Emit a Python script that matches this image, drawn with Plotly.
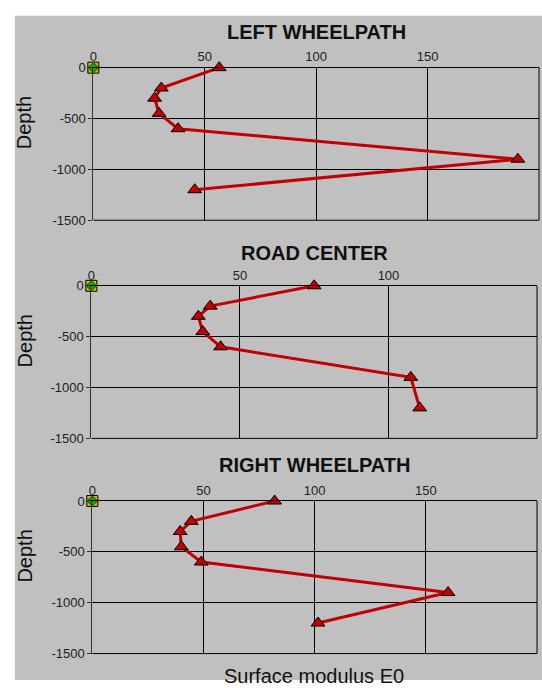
import plotly.graph_objects as go

W, H = 542, 688

depth = [0, -200, -300, -450, -600, -900, -1200]
left_e0 = [56.5, 30.5, 27.5, 29.5, 38, 190.5, 45.5]
center_e0 = [75, 40, 36, 37.5, 43.5, 107.5, 110.5]
right_e0 = [82, 44.5, 39.5, 40, 49, 160, 101.5]

titles = ["LEFT WHEELPATH", "ROAD CENTER", "RIGHT WHEELPATH"]
x_ranges = [[0, 200], [0, 150], [0, 200]]
x_ticks = [[0, 50, 100, 150, 200], [0, 50, 100, 150], [0, 50, 100, 150, 200]]
y_ticks = [0, -500, -1000, -1500]
y_ticktext = ["0", "-500", "-1000", "-1500"]
origin_x = [0]
origin_y = [0]

# plot areas in pixels: (left, right, top, bottom)
boxes = [(90, 539, 62, 218), (88, 537, 285, 441), (89, 537, 505, 661)]
title_y = [26, 251, 468]

GRAY = "#c0c0c0"
RED = "#c00000"
FONT = "Arial, Liberation Sans, sans-serif"

fig = go.Figure()
series = [left_e0, center_e0, right_e0]

annotations = []
shapes = [dict(type="rect", xref="paper", yref="paper", x0=11 / W, x1=1,
               y0=0, y1=1 - 9 / H, fillcolor=GRAY, line=dict(width=0),
               layer="below")]
for i, (vals, box) in enumerate(zip(series, boxes)):
    xa = "x" if i == 0 else f"x{i+1}"
    ya = "y" if i == 0 else f"y{i+1}"
    l, r, t, b = box
    fig.add_trace(go.Scatter(
        x=vals, y=depth, xaxis=xa, yaxis=ya, mode="lines+markers",
        line=dict(color=RED, width=3),
        marker=dict(symbol="triangle-up", size=12, color=RED,
                    line=dict(color="black", width=1)),
        cliponaxis=False, showlegend=False, hoverinfo="skip"))
    fig.add_trace(go.Scatter(
        x=origin_x, y=origin_y, xaxis=xa, yaxis=ya, mode="markers",
        marker=dict(symbol="square", size=11, color="#f0a800",
                    line=dict(color="black", width=1)),
        cliponaxis=False, showlegend=False, hoverinfo="skip"))
    fig.add_trace(go.Scatter(
        x=origin_x, y=origin_y, xaxis=xa, yaxis=ya, mode="markers",
        marker=dict(symbol="diamond", size=8, color="#10a010",
                    line=dict(color="#006000", width=1)),
        cliponaxis=False, showlegend=False, hoverinfo="skip"))

    xkey = "xaxis" if i == 0 else f"xaxis{i+1}"
    ykey = "yaxis" if i == 0 else f"yaxis{i+1}"
    fig.update_layout(**{
        xkey: dict(domain=[l / W, r / W], range=x_ranges[i], anchor=ya,
                   side="top", tickvals=x_ticks[i], showgrid=True,
                   gridcolor="black", gridwidth=1, showline=True,
                   linecolor="black", linewidth=1, zeroline=False,
                   ticks="",
                   tickfont=dict(family=FONT, size=13, color="#202020"),
                   fixedrange=True),
        ykey: dict(domain=[1 - b / H, 1 - t / H], range=[-1500, 0], anchor=xa,
                   tickvals=y_ticks, ticktext=y_ticktext, showgrid=True,
                   gridcolor="black", gridwidth=1, showline=True,
                   linecolor="#303030", linewidth=1, zeroline=False,
                   ticks="outside", ticklen=4, tickcolor="#303030",
                   tickfont=dict(family=FONT, size=13, color="#202020"),
                   fixedrange=True),
    })
    # right and bottom border lines of the plot area
    shapes.append(dict(type="line", xref=f"{xa} domain", yref=f"{ya} domain",
                       x0=1, x1=1, y0=0, y1=1, line=dict(color="black", width=1)))
    shapes.append(dict(type="line", xref=f"{xa} domain", yref=f"{ya} domain",
                       x0=0, x1=1, y0=0, y1=0, line=dict(color="black", width=1)))
    annotations.append(dict(text=f"<b>{titles[i]}</b>", x=(l + r) / 2 / W,
                            y=1 - title_y[i] / H, xref="paper", yref="paper",
                            xanchor="center", yanchor="middle", showarrow=False,
                            font=dict(family=FONT, size=20, color="#101010")))
    annotations.append(dict(text="Depth", x=21 / W, y=1 - ((t + b) / 2 - 22) / H,
                            xref="paper", yref="paper", textangle=-90,
                            xanchor="center", yanchor="middle", showarrow=False,
                            font=dict(family=FONT, size=20, color="#101010")))

annotations.append(dict(text="Surface modulus E0", x=312 / W, y=1 - 684 / H,
                        xref="paper", yref="paper", xanchor="center",
                        yanchor="middle", showarrow=False,
                        font=dict(family=FONT, size=20, color="#101010")))

fig.update_layout(
    width=W, height=H, margin=dict(l=0, r=0, t=0, b=0),
    paper_bgcolor="white", plot_bgcolor=GRAY,
    annotations=annotations,
    shapes=shapes,
)

fig.write_html(
    "out.html",
    config={"displayModeBar": False},
    post_script="document.body.style.margin='0';"
                "document.documentElement.style.overflow='hidden';"
                "document.body.style.overflow='hidden';",
)
